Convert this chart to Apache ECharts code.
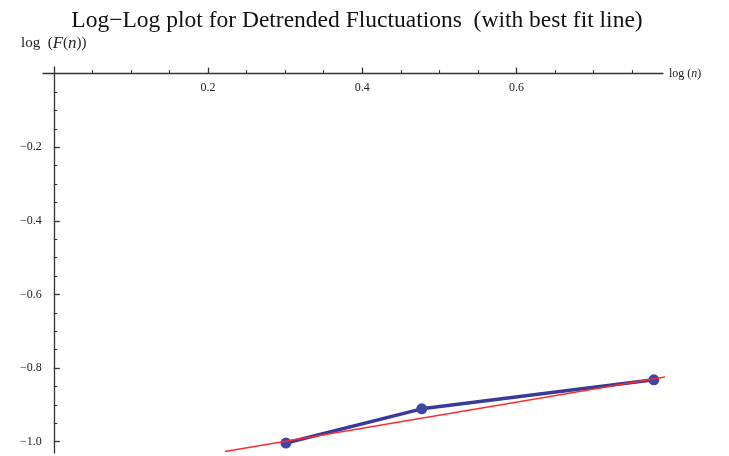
<!DOCTYPE html>
<html>
<head>
<meta charset="utf-8">
<script src="https://cdn.jsdelivr.net/npm/echarts@6/dist/echarts.min.js"></script>
<style>html,body{margin:0;padding:0;background:#fff}#c{width:729px;height:456px}</style>
</head>
<body>
<div id="c"></div>
<script>
const titleText = 'Log\u2212Log plot for Detrended Fluctuations  (with best fit line)';
const logN = [0.30103, 0.47712, 0.77815];
const logF = [-1.004, -0.911, -0.832];
const fitX = [0.222, 0.797];
const fitY = [-1.027, -0.823];
const xMajor = [0.2, 0.4, 0.6];
const xMinor = [0.05, 0.1, 0.15, 0.25, 0.3, 0.35, 0.45, 0.5, 0.55, 0.65, 0.7, 0.75];
const yMajor = [-0.2, -0.4, -0.6, -0.8, -1.0];
const yMinor = [-0.05, -0.1, -0.15, -0.25, -0.3, -0.35, -0.45, -0.5, -0.55, -0.65, -0.7, -0.75, -0.85, -0.9, -0.95];

const X_MIN = -0.014, X_MAX = 0.79, Y_MIN = -1.031, Y_MAX = 0.018;
const GRID = {left: 43, right: 66, top: 67, bottom: 3};
const W = 729, H = 456;
const gridW = W - GRID.left - GRID.right, gridH = H - GRID.top - GRID.bottom;
// move axes from grid edges to the zero lines (axes cross at the origin)
const xAxisOffset = -gridH * (0 - Y_MIN) / (Y_MAX - Y_MIN);
const yAxisOffset = -gridW * (0 - X_MIN) / (X_MAX - X_MIN);

const serif = '"Liberation Serif", "DejaVu Serif", serif';
const axisCol = '#333';

const chart = echarts.init(document.getElementById('c'), null, {renderer: 'canvas'});
const fmt = v => (v < 0 ? '\u2212' + Math.abs(v).toFixed(1) : v.toFixed(1));

chart.setOption({
  animation: false,
  title: {
    text: titleText, left: 352, top: 4, textAlign: 'center',
    textStyle: {fontFamily: serif, fontSize: 23.5, fontWeight: 'normal', color: '#111'}
  },
  grid: Object.assign({containLabel: false}, GRID),
  xAxis: [{
    type: 'value', min: X_MIN, max: X_MAX, position: 'bottom', offset: xAxisOffset,
    axisLine: {show: true, onZero: false, lineStyle: {color: axisCol, width: 1.3}},
    axisTick: {show: true, inside: true, length: 6, customValues: xMajor, lineStyle: {color: axisCol, width: 1.3}},
    axisLabel: {show: true, customValues: xMajor, formatter: fmt, margin: 8, fontFamily: serif, fontSize: 12, color: '#222'},
    splitLine: {show: false},
    name: '{r|log (}{i|n}{r|)}', nameLocation: 'end', nameGap: 6,
    nameTextStyle: {rich: {r: {fontFamily: serif, fontSize: 12, color: '#222'}, i: {fontFamily: serif, fontSize: 12, fontStyle: 'italic', color: '#222'}}}
  }, {
    type: 'value', min: X_MIN, max: X_MAX, position: 'bottom', offset: xAxisOffset,
    axisLine: {show: false, onZero: false},
    axisTick: {show: true, inside: true, length: 3.5, customValues: xMinor, lineStyle: {color: axisCol, width: 1.1}},
    axisLabel: {show: false},
    splitLine: {show: false}
  }],
  yAxis: [{
    type: 'value', min: Y_MIN, max: Y_MAX, position: 'left', offset: yAxisOffset,
    axisLine: {show: true, onZero: false, lineStyle: {color: axisCol, width: 1.3}},
    axisTick: {show: true, inside: true, length: 6, customValues: yMajor, lineStyle: {color: axisCol, width: 1.3}},
    axisLabel: {show: true, customValues: yMajor, formatter: fmt, margin: 12, fontFamily: serif, fontSize: 12, color: '#222'},
    splitLine: {show: false},
    name: '{r|log  (}{i|F}{r|(}{i|n}{r|))}', nameLocation: 'end', nameGap: 15,
    nameTextStyle: {rich: {r: {fontFamily: serif, fontSize: 15, color: '#222'}, i: {fontFamily: serif, fontSize: 17, fontStyle: 'italic', color: '#222'}}}
  }, {
    type: 'value', min: Y_MIN, max: Y_MAX, position: 'left', offset: yAxisOffset,
    axisLine: {show: false, onZero: false},
    axisTick: {show: true, inside: true, length: 3.5, customValues: yMinor, lineStyle: {color: axisCol, width: 1.1}},
    axisLabel: {show: false},
    splitLine: {show: false}
  }],
  series: [{
    type: 'line', xAxisIndex: 0, yAxisIndex: 0,
    data: logN.map((x, i) => [x, logF[i]]),
    symbol: 'circle', symbolSize: 11,
    lineStyle: {color: '#3a3a98', width: 3.5},
    itemStyle: {color: '#3d47a4'},
    z: 2
  }, {
    type: 'line', xAxisIndex: 0, yAxisIndex: 0,
    data: fitX.map((x, i) => [x, fitY[i]]),
    symbol: 'none',
    lineStyle: {color: '#ff2a2a', width: 1.6},
    z: 3
  }]
});
</script>
</body>
</html>
